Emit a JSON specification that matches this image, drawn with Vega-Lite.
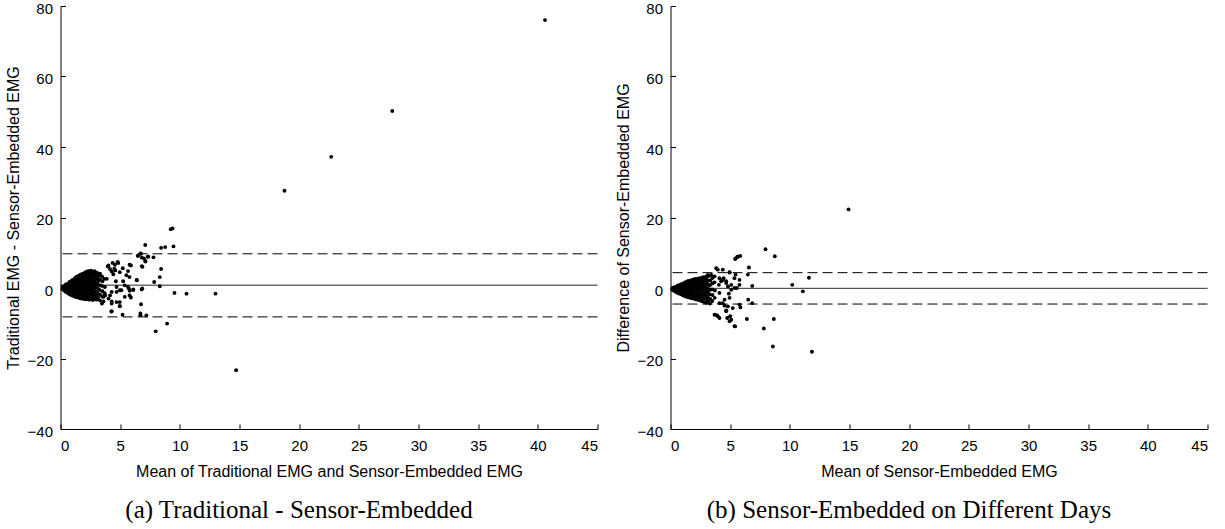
{
  "$schema": "https://vega.github.io/schema/vega-lite/v6.json",
  "padding": {"left": 4.5, "top": 1, "right": 0, "bottom": 0},
  "background": "white",
  "spacing": 16,
  "datasets": {
    "a": [
      {"x":0.15,"y":-0.3},{"x":0.17,"y":0.3},
      {"x":0.3,"y":-0.7},{"x":0.28,"y":0.0},{"x":0.32,"y":0.6},
      {"x":0.45,"y":-1.1},{"x":0.43,"y":-0.3},{"x":0.47,"y":0.5},{"x":0.45,"y":1.0},
      {"x":0.6,"y":-1.4},{"x":0.62,"y":-0.5},{"x":0.58,"y":0.3},{"x":0.61,"y":1.2},
      {"x":0.75,"y":-1.8},{"x":0.73,"y":-0.9},{"x":0.77,"y":0.0},{"x":0.74,"y":0.9},{"x":0.76,"y":1.7},
      {"x":0.9,"y":-2.0},{"x":0.92,"y":-1.1},{"x":0.88,"y":-0.2},{"x":0.91,"y":0.7},{"x":0.89,"y":1.6},{"x":0.93,"y":2.1},
      {"x":1.05,"y":-2.2},{"x":1.03,"y":-1.3},{"x":1.07,"y":-0.4},{"x":1.04,"y":0.5},{"x":1.06,"y":1.4},{"x":1.02,"y":2.3},
      {"x":1.2,"y":-2.4},{"x":1.22,"y":-1.5},{"x":1.18,"y":-0.6},{"x":1.21,"y":0.3},{"x":1.19,"y":1.2},{"x":1.23,"y":2.1},{"x":1.2,"y":2.8},
      {"x":1.35,"y":-2.6},{"x":1.33,"y":-1.7},{"x":1.37,"y":-0.8},{"x":1.34,"y":0.1},{"x":1.36,"y":1.0},{"x":1.32,"y":1.9},{"x":1.38,"y":2.7},{"x":1.35,"y":3.2},
      {"x":1.5,"y":-2.7},{"x":1.52,"y":-1.8},{"x":1.48,"y":-0.9},{"x":1.51,"y":0.0},{"x":1.49,"y":0.9},{"x":1.53,"y":1.8},{"x":1.47,"y":2.6},{"x":1.5,"y":3.4},
      {"x":1.65,"y":-2.9},{"x":1.63,"y":-2.0},{"x":1.67,"y":-1.1},{"x":1.64,"y":-0.2},{"x":1.66,"y":0.7},{"x":1.62,"y":1.6},{"x":1.68,"y":2.5},{"x":1.65,"y":3.3},{"x":1.66,"y":3.8},
      {"x":1.8,"y":-3.0},{"x":1.82,"y":-2.1},{"x":1.78,"y":-1.2},{"x":1.81,"y":-0.3},{"x":1.79,"y":0.6},{"x":1.83,"y":1.5},{"x":1.77,"y":2.4},{"x":1.8,"y":3.2},{"x":1.82,"y":4.0},
      {"x":1.95,"y":-3.1},{"x":1.93,"y":-2.2},{"x":1.97,"y":-1.3},{"x":1.94,"y":-0.4},{"x":1.96,"y":0.5},{"x":1.92,"y":1.4},{"x":1.98,"y":2.3},{"x":1.95,"y":3.2},{"x":1.94,"y":4.1},
      {"x":2.1,"y":-3.2},{"x":2.12,"y":-2.3},{"x":2.08,"y":-1.4},{"x":2.11,"y":-0.5},{"x":2.09,"y":0.4},{"x":2.13,"y":1.3},{"x":2.07,"y":2.2},{"x":2.1,"y":3.1},{"x":2.12,"y":4.0},{"x":2.09,"y":4.5},
      {"x":2.25,"y":-3.0},{"x":2.23,"y":-2.1},{"x":2.27,"y":-1.2},{"x":2.24,"y":-0.3},{"x":2.26,"y":0.6},{"x":2.22,"y":1.5},{"x":2.28,"y":2.4},{"x":2.25,"y":3.3},{"x":2.24,"y":4.2},{"x":2.26,"y":4.7},
      {"x":2.4,"y":-3.3},{"x":2.42,"y":-2.4},{"x":2.38,"y":-1.5},{"x":2.41,"y":-0.6},{"x":2.39,"y":0.3},{"x":2.43,"y":1.2},{"x":2.37,"y":2.1},{"x":2.4,"y":3.0},{"x":2.42,"y":3.9},{"x":2.39,"y":4.8},
      {"x":2.55,"y":-3.1},{"x":2.53,"y":-2.2},{"x":2.57,"y":-1.3},{"x":2.54,"y":-0.4},{"x":2.56,"y":0.5},{"x":2.52,"y":1.4},{"x":2.58,"y":2.3},{"x":2.55,"y":3.2},{"x":2.54,"y":4.1},{"x":2.56,"y":4.9},
      {"x":2.7,"y":-3.4},{"x":2.72,"y":-2.5},{"x":2.68,"y":-1.6},{"x":2.71,"y":-0.7},{"x":2.69,"y":0.2},{"x":2.73,"y":1.1},{"x":2.67,"y":2.0},{"x":2.7,"y":2.9},{"x":2.72,"y":3.8},{"x":2.69,"y":4.6},
      {"x":2.85,"y":-3.0},{"x":2.83,"y":-2.0},{"x":2.87,"y":-1.0},{"x":2.84,"y":0.0},{"x":2.86,"y":1.0},{"x":2.82,"y":2.0},{"x":2.88,"y":3.0},{"x":2.85,"y":4.0},{"x":2.84,"y":4.8},
      {"x":3.0,"y":-3.3},{"x":3.02,"y":-2.2},{"x":2.98,"y":-1.1},{"x":3.01,"y":0.1},{"x":2.99,"y":1.2},{"x":3.03,"y":2.3},{"x":2.97,"y":3.4},{"x":3.0,"y":4.4},
      {"x":3.15,"y":-2.8},{"x":3.13,"y":-1.5},{"x":3.17,"y":-0.3},{"x":3.14,"y":0.9},{"x":3.16,"y":2.0},{"x":3.12,"y":3.2},{"x":3.18,"y":4.1},
      {"x":3.3,"y":-3.5},{"x":3.32,"y":-1.9},{"x":3.28,"y":-0.6},{"x":3.31,"y":0.8},{"x":3.29,"y":2.4},{"x":3.33,"y":3.6},
      {"x":3.5,"y":-2.4},{"x":3.52,"y":-0.9},{"x":3.48,"y":0.6},{"x":3.51,"y":1.9},{"x":3.49,"y":3.2},
      {"x":3.7,"y":-1.5},{"x":3.72,"y":0.3},{"x":3.68,"y":2.6},
      {"x":4.02,"y":6.4},{"x":4.56,"y":6.6},{"x":4.84,"y":7.1},{"x":4.51,"y":5.5},{"x":4.29,"y":4.7},{"x":4.97,"y":4.5},
      {"x":5.79,"y":6.6},{"x":5.52,"y":3.6},{"x":5.25,"y":1.9},{"x":4.64,"y":1.9},{"x":3.88,"y":2.6},{"x":6.4,"y":2.2},
      {"x":6.8,"y":-0.4},{"x":6.1,"y":-0.4},{"x":5.66,"y":0.3},{"x":5.38,"y":0.75},{"x":4.97,"y":-0.65},{"x":4.7,"y":-1.1},
      {"x":4.29,"y":-1.1},{"x":4.15,"y":-2.1},{"x":3.6,"y":-2.5},{"x":3.6,"y":-3.8},{"x":4.29,"y":-3.8},{"x":4.97,"y":-4.0},
      {"x":5.38,"y":-2.5},{"x":5.79,"y":-2.1},{"x":4.97,"y":-5.2},{"x":4.29,"y":-6.6},{"x":6.75,"y":-4.6},
      {"x":6.7,"y":-7.2},{"x":6.7,"y":-7.7},{"x":7.2,"y":-7.8},{"x":7.98,"y":-12.3},{"x":8.93,"y":-10.1},
      {"x":6.48,"y":9.2},{"x":6.7,"y":9.8},{"x":6.82,"y":8.6},{"x":7.1,"y":12.2},{"x":7.32,"y":8.9},{"x":7.79,"y":8.7},
      {"x":7.1,"y":7.7},{"x":6.82,"y":6.2},{"x":8.43,"y":11.4},{"x":8.77,"y":11.6},{"x":9.47,"y":11.8},{"x":8.43,"y":5.4},
      {"x":8.32,"y":3.1},{"x":7.85,"y":1.7},{"x":8.32,"y":0.5},{"x":9.24,"y":16.7},{"x":9.39,"y":16.9},
      {"x":9.55,"y":-1.4},{"x":10.56,"y":-1.6},{"x":12.99,"y":-1.6},{"x":14.72,"y":-23.3},
      {"x":18.77,"y":27.6},{"x":22.68,"y":37.2},{"x":27.8,"y":50.2},{"x":40.6,"y":76.0},
      {"x":3.96,"y":6.1},{"x":4.15,"y":5.4},{"x":4.37,"y":7.1},{"x":4.78,"y":7.4},{"x":4.59,"y":5.0},{"x":4.43,"y":3.9},
      {"x":5.22,"y":5.6},{"x":5.66,"y":4.8},{"x":3.33,"y":4.0},{"x":4.7,"y":0.3},{"x":5.1,"y":-0.65},{"x":5.74,"y":-0.2},
      {"x":3.74,"y":-2.1},{"x":4.02,"y":-3.0},{"x":4.29,"y":-4.4},{"x":4.7,"y":-4.0},{"x":4.97,"y":-5.1},{"x":5.2,"y":-7.6},
      {"x":4.26,"y":-6.7},{"x":3.47,"y":-4.4},{"x":3.06,"y":-2.7},{"x":2.79,"y":-2.7},{"x":2.24,"y":-3.0},
      {"x":5.9,"y":6.4},{"x":6.1,"y":-0.6},{"x":5.8,"y":-0.8},{"x":5.9,"y":-2.7},{"x":6.85,"y":-0.1},{"x":6.38,"y":2.3},
      {"x":6.87,"y":6.0},{"x":7.12,"y":7.5},{"x":7.0,"y":8.4},{"x":7.35,"y":8.9},{"x":6.75,"y":9.7},{"x":6.5,"y":9.1},
      {"x":5.78,"y":3.1}
    ],
    "b": [
      {"x":0.15,"y":-0.5},{"x":0.17,"y":0.0},
      {"x":0.3,"y":-0.8},{"x":0.28,"y":-0.2},{"x":0.32,"y":0.2},
      {"x":0.45,"y":-1.1},{"x":0.43,"y":-0.4},{"x":0.47,"y":0.3},
      {"x":0.6,"y":-1.4},{"x":0.62,"y":-0.6},{"x":0.58,"y":0.2},{"x":0.61,"y":0.7},
      {"x":0.75,"y":-1.6},{"x":0.73,"y":-0.8},{"x":0.77,"y":0.0},{"x":0.74,"y":0.8},
      {"x":0.9,"y":-1.8},{"x":0.92,"y":-1.0},{"x":0.88,"y":-0.2},{"x":0.91,"y":0.6},{"x":0.89,"y":1.1},
      {"x":1.05,"y":-2.1},{"x":1.03,"y":-1.2},{"x":1.07,"y":-0.4},{"x":1.04,"y":0.4},{"x":1.06,"y":1.3},
      {"x":1.2,"y":-2.3},{"x":1.22,"y":-1.4},{"x":1.18,"y":-0.6},{"x":1.21,"y":0.2},{"x":1.19,"y":1.0},{"x":1.23,"y":1.6},
      {"x":1.35,"y":-2.5},{"x":1.33,"y":-1.6},{"x":1.37,"y":-0.7},{"x":1.34,"y":0.1},{"x":1.36,"y":0.9},{"x":1.32,"y":1.7},
      {"x":1.5,"y":-2.6},{"x":1.52,"y":-1.8},{"x":1.48,"y":-0.9},{"x":1.51,"y":-0.1},{"x":1.49,"y":0.7},{"x":1.53,"y":1.5},{"x":1.47,"y":2.0},
      {"x":1.65,"y":-2.8},{"x":1.63,"y":-1.9},{"x":1.67,"y":-1.0},{"x":1.64,"y":-0.2},{"x":1.66,"y":0.6},{"x":1.62,"y":1.4},{"x":1.68,"y":2.1},
      {"x":1.8,"y":-2.9},{"x":1.82,"y":-2.1},{"x":1.78,"y":-1.2},{"x":1.81,"y":-0.3},{"x":1.79,"y":0.5},{"x":1.83,"y":1.3},{"x":1.77,"y":2.2},
      {"x":1.95,"y":-3.0},{"x":1.93,"y":-2.2},{"x":1.97,"y":-1.3},{"x":1.94,"y":-0.4},{"x":1.96,"y":0.4},{"x":1.92,"y":1.2},{"x":1.98,"y":2.0},{"x":1.95,"y":2.4},
      {"x":2.1,"y":-3.2},{"x":2.12,"y":-2.3},{"x":2.08,"y":-1.4},{"x":2.11,"y":-0.5},{"x":2.09,"y":0.3},{"x":2.13,"y":1.1},{"x":2.07,"y":1.9},{"x":2.1,"y":2.6},
      {"x":2.25,"y":-3.3},{"x":2.23,"y":-2.4},{"x":2.27,"y":-1.5},{"x":2.24,"y":-0.6},{"x":2.26,"y":0.2},{"x":2.22,"y":1.0},{"x":2.28,"y":1.8},{"x":2.25,"y":2.6},
      {"x":2.4,"y":-3.4},{"x":2.42,"y":-2.5},{"x":2.38,"y":-1.6},{"x":2.41,"y":-0.7},{"x":2.39,"y":0.1},{"x":2.43,"y":0.9},{"x":2.37,"y":1.7},{"x":2.4,"y":2.5},{"x":2.42,"y":2.8},
      {"x":2.55,"y":-3.6},{"x":2.53,"y":-2.7},{"x":2.57,"y":-1.8},{"x":2.54,"y":-0.8},{"x":2.56,"y":0.1},{"x":2.52,"y":1.0},{"x":2.58,"y":1.9},{"x":2.55,"y":2.7},
      {"x":2.7,"y":-3.8},{"x":2.72,"y":-2.8},{"x":2.68,"y":-1.8},{"x":2.71,"y":-0.9},{"x":2.69,"y":0.0},{"x":2.73,"y":0.9},{"x":2.67,"y":1.8},{"x":2.7,"y":2.8},{"x":2.72,"y":3.1},
      {"x":2.85,"y":-4.0},{"x":2.83,"y":-3.0},{"x":2.87,"y":-2.0},{"x":2.84,"y":-1.0},{"x":2.86,"y":0.0},{"x":2.82,"y":1.0},{"x":2.88,"y":2.0},{"x":2.85,"y":3.0},
      {"x":3.0,"y":-4.2},{"x":3.02,"y":-3.1},{"x":2.98,"y":-2.0},{"x":3.01,"y":-0.9},{"x":2.99,"y":0.2},{"x":3.03,"y":1.3},{"x":2.97,"y":2.4},{"x":3.0,"y":3.3},
      {"x":3.15,"y":-3.8},{"x":3.13,"y":-2.6},{"x":3.17,"y":-1.4},{"x":3.14,"y":-0.2},{"x":3.16,"y":1.0},{"x":3.12,"y":2.2},{"x":3.18,"y":3.4},
      {"x":3.3,"y":-4.4},{"x":3.32,"y":-3.1},{"x":3.28,"y":-1.8},{"x":3.31,"y":-0.5},{"x":3.29,"y":0.8},{"x":3.33,"y":2.1},
      {"x":3.5,"y":-3.7},{"x":3.52,"y":-2.0},{"x":3.48,"y":-0.4},{"x":3.51,"y":1.3},{"x":3.49,"y":2.8},
      {"x":3.7,"y":-2.8},{"x":3.72,"y":-0.7},{"x":3.68,"y":1.6},
      {"x":3.83,"y":5.6},{"x":4.38,"y":5.2},{"x":4.95,"y":4.5},{"x":3.41,"y":3.7},{"x":3.69,"y":3.3},{"x":4.1,"y":2.8},
      {"x":4.38,"y":2.3},{"x":4.67,"y":1.4},{"x":5.09,"y":0.9},{"x":5.36,"y":0.0},{"x":5.36,"y":2.8},{"x":5.78,"y":2.3},
      {"x":5.42,"y":8.2},{"x":5.64,"y":8.9},{"x":4.95,"y":-2.8},{"x":4.53,"y":-3.3},{"x":4.1,"y":-4.3},{"x":4.81,"y":-5.2},
      {"x":5.22,"y":-5.7},{"x":5.78,"y":-4.7},{"x":3.69,"y":-7.6},{"x":3.96,"y":-8.0},{"x":5.09,"y":-9.0},{"x":4.67,"y":-6.6},
      {"x":5.36,"y":-10.8},
      {"x":5.45,"y":8.4},{"x":5.59,"y":8.8},{"x":5.84,"y":9.1},{"x":6.57,"y":5.8},{"x":6.48,"y":3.8},{"x":5.45,"y":3.8},
      {"x":4.95,"y":4.4},{"x":3.96,"y":5.2},{"x":3.13,"y":3.7},{"x":4.45,"y":2.8},{"x":4.67,"y":1.9},{"x":4.24,"y":1.9},
      {"x":4.05,"y":0.9},{"x":4.81,"y":0.45},{"x":5.09,"y":-0.5},{"x":4.89,"y":-1.6},{"x":4.1,"y":-1.4},
      {"x":5.78,"y":0.9},{"x":6.85,"y":0.6},{"x":5.56,"y":0.0},{"x":5.86,"y":-5.5},{"x":6.51,"y":-3.3},{"x":6.85,"y":-4.3},
      {"x":4.38,"y":-4.3},{"x":4.53,"y":-5.0},{"x":3.88,"y":-7.7},{"x":4.1,"y":-8.5},{"x":4.67,"y":-6.4},{"x":5.0,"y":-8.0},
      {"x":4.75,"y":-8.5},{"x":4.95,"y":-9.4},{"x":5.42,"y":-10.9},{"x":6.4,"y":-8.8},{"x":7.82,"y":-11.5},{"x":8.66,"y":-8.8},
      {"x":8.58,"y":-16.6},{"x":7.96,"y":11.0},{"x":8.74,"y":9.0},{"x":10.2,"y":0.9},{"x":11.09,"y":-0.95},{"x":11.6,"y":2.9},
      {"x":11.85,"y":-18.1},{"x":14.92,"y":22.3}
    ]
  },
  "hconcat": [
    {
      "width": 537,
      "height": 423,
      "title": {"text": "(a) Traditional - Sensor-Embedded", "orient": "bottom", "anchor": "middle", "frame": "group", "dx": -30, "offset": 19, "font": "Liberation Serif", "fontSize": 25, "fontWeight": "normal", "color": "black"},
      "layer": [
        {
          "data": {"name": "a"},
          "mark": {"type": "circle", "size": 15, "color": "black", "opacity": 1},
          "encoding": {
            "x": {"field": "x", "type": "quantitative", "scale": {"domain": [0, 45], "nice": false, "zero": false}, "axis": {"values": [0,5,10,15,20,25,30,35,40,45], "labelPadding": 14, "titlePadding": 10, "title": "Mean of Traditional EMG and Sensor-Embedded EMG"}},
            "y": {"field": "y", "type": "quantitative", "scale": {"domain": [-40, 80], "nice": false}, "axis": {"values": [-40,-20,0,20,40,60,80], "labelPadding": 13, "labelOffset": 2, "titlePadding": 6, "title": "Traditional EMG - Sensor-Embedded EMG"}}
          }
        },
        {
          "data": {"values": [{"y": 0.8, "k": "m"}, {"y": 9.7, "k": "l"}, {"y": -8.2, "k": "l"}]},
          "mark": {"type": "rule", "color": "black", "strokeWidth": 1},
          "encoding": {
            "y": {"field": "y", "type": "quantitative"},
            "strokeDash": {"field": "k", "type": "nominal", "scale": {"domain": ["m", "l"], "range": [[1, 0], [10, 5]]}, "legend": null}
          }
        }
      ]
    },
    {
      "width": 537,
      "height": 423,
      "title": {"text": "(b) Sensor-Embedded on Different Days", "orient": "bottom", "anchor": "middle", "frame": "group", "dx": -30, "offset": 19, "font": "Liberation Serif", "fontSize": 25, "fontWeight": "normal", "color": "black"},
      "layer": [
        {
          "data": {"name": "b"},
          "mark": {"type": "circle", "size": 15, "color": "black", "opacity": 1},
          "encoding": {
            "x": {"field": "x", "type": "quantitative", "scale": {"domain": [0, 45], "nice": false, "zero": false}, "axis": {"values": [0,5,10,15,20,25,30,35,40,45], "labelPadding": 14, "titlePadding": 10, "title": "Mean of Sensor-Embedded EMG"}},
            "y": {"field": "y", "type": "quantitative", "scale": {"domain": [-40, 80], "nice": false}, "axis": {"values": [-40,-20,0,20,40,60,80], "labelPadding": 13, "labelOffset": 2, "titlePadding": 6, "title": "Difference of Sensor-Embedded EMG"}}
          }
        },
        {
          "data": {"values": [{"y": -0.1, "k": "m"}, {"y": 4.35, "k": "l"}, {"y": -4.55, "k": "l"}]},
          "mark": {"type": "rule", "color": "black", "strokeWidth": 1},
          "encoding": {
            "y": {"field": "y", "type": "quantitative"},
            "strokeDash": {"field": "k", "type": "nominal", "scale": {"domain": ["m", "l"], "range": [[1, 0], [10, 5]]}, "legend": null}
          }
        }
      ]
    }
  ],
  "config": {
    "view": {"stroke": null},
    "axis": {
      "grid": false,
      "domainColor": "black",
      "tickColor": "black",
      "labelColor": "black",
      "titleColor": "black",
      "labelFont": "Liberation Sans",
      "titleFont": "Liberation Sans",
      "labelFontSize": 15,
      "titleFontSize": 16,
      "titleFontWeight": "normal",
      "tickSize": -5,
      "labelPadding": 8,
      "titlePadding": 8,
      "domainWidth": 1,
      "tickWidth": 1
    }
  }
}
